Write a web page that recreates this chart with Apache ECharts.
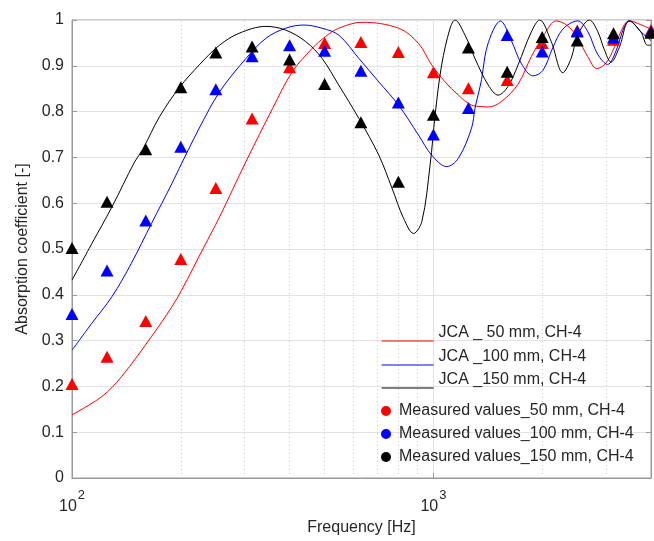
<!DOCTYPE html>
<html>
<head>
<meta charset="utf-8">
<title>Absorption coefficient – JCA model vs. measurement</title>
<script src="https://cdn.jsdelivr.net/npm/echarts@6/dist/echarts.min.js"></script>
<style>
  html, body { margin: 0; padding: 0; background: #fff; }
  #chart { width: 654px; height: 541px; }
</style>
</head>
<body>
<div id="chart"></div>
<script>
// Third-octave band centre frequencies of the impedance-tube measurement [Hz]
const bandFreqs = [100, 125, 160, 200, 250, 315, 400, 500, 630, 800, 1000, 1250, 1600, 2000, 2500, 3150, 4000];

// Measured absorption coefficients per band
const measured50  = [0.205, 0.265, 0.343, 0.478, 0.633, 0.785, 0.897, 0.950, 0.952, 0.930, 0.886, 0.851, 0.869, 0.950, 0.977, 0.957, 0.978];
const measured100 = [0.358, 0.453, 0.562, 0.723, 0.849, 0.921, 0.945, 0.933, 0.889, 0.820, 0.750, 0.808, 0.967, 0.931, 0.975, 0.962, 0.975];
const measured150 = [0.502, 0.603, 0.718, 0.853, 0.929, 0.942, 0.914, 0.860, 0.777, 0.647, 0.793, 0.940, 0.887, 0.963, 0.955, 0.971, 0.972];

// JCA model curves: [frequency Hz, absorption coefficient]
const jca50 = [
  [100, 0.138], [121, 0.178], [137, 0.221], [166, 0.309], [189, 0.374], [201, 0.410],
  [232, 0.505], [256, 0.570], [303, 0.691], [359, 0.807], [407, 0.887], [462, 0.938],
  [503, 0.964], [547, 0.982], [635, 0.995], [801, 0.982], [909, 0.949], [989, 0.902],
  [1077, 0.865], [1172, 0.836], [1275, 0.814], [1359, 0.811], [1418, 0.810], [1542, 0.822],
  [1715, 0.860], [1866, 0.920], [2032, 0.970], [2186, 0.998], [2354, 0.987], [2508, 0.960],
  [2673, 0.920], [2830, 0.894], [2997, 0.905], [3166, 0.940], [3374, 0.990], [3490, 0.998],
  [3741, 0.990], [4000, 0.980]
];
const jca100 = [
  [100, 0.279], [113.5, 0.338], [129, 0.396], [146, 0.469], [166, 0.556], [189, 0.643],
  [198, 0.676], [225, 0.764], [256, 0.843], [303, 0.916], [344, 0.960], [390, 0.982],
  [438, 0.989], [492, 0.982], [547, 0.967], [622, 0.916], [706, 0.865], [801, 0.814],
  [909, 0.749], [989, 0.705], [1088, 0.680], [1172, 0.698], [1275, 0.764], [1303, 0.807],
  [1359, 0.870], [1388, 0.920], [1418, 0.950], [1479, 0.985], [1530, 0.998], [1643, 0.955],
  [1751, 0.905], [1886, 0.878], [2009, 0.890], [2141, 0.940], [2281, 0.980], [2508, 0.998],
  [2673, 0.975], [2848, 0.925], [3035, 0.903], [3192, 0.930], [3374, 0.985], [3490, 0.998],
  [3741, 0.975], [4000, 0.955]
];
const jca150 = [
  [100, 0.432], [113.5, 0.512], [129, 0.592], [149, 0.690], [157, 0.718], [175, 0.790],
  [198, 0.852], [225, 0.902], [256, 0.945], [290, 0.971], [344, 0.986], [390, 0.978],
  [443, 0.953], [492, 0.916], [547, 0.858], [622, 0.785], [706, 0.705], [768, 0.633],
  [827, 0.567], [881, 0.534], [929, 0.560], [979, 0.683], [1011, 0.793], [1054, 0.902],
  [1112, 0.982], [1147, 1.000], [1223, 0.967], [1303, 0.916], [1418, 0.858], [1510, 0.836],
  [1609, 0.855], [1715, 0.902], [1866, 0.974], [1968, 1.000], [2118, 0.953], [2281, 0.885],
  [2404, 0.916], [2508, 0.967], [2702, 1.000], [2848, 0.975], [2972, 0.935], [3100, 0.908],
  [3268, 0.940], [3483, 0.998], [3749, 0.974], [3911, 0.945], [4000, 0.945]
];

// Minor (dotted) vertical grid lines of the logarithmic frequency axis
const minorGridFreqs = [200, 300, 400, 500, 600, 700, 800, 900, 2000, 3000];

// Series names as shown in the legend
const lineNames = ['JCA _ 50 mm, CH-4', 'JCA _100 mm, CH-4', 'JCA _150 mm, CH-4'];
const pointNames = ['Measured values_50 mm, CH-4', 'Measured values_100 mm, CH-4', 'Measured values_150 mm, CH-4'];
const colors = ['#ff0000', '#0000ff', '#000000'];

const FONT = '"Liberation Sans", Arial, Helvetica, sans-serif';
const TEXT = '#262626';
const AXIS = '#9a9a9a';

const pairs = vals => vals.map((v, i) => [bandFreqs[i], v]);

const chart = echarts.init(document.getElementById('chart'), null, { renderer: 'canvas' });

const lineSeries = [jca50, jca100, jca150].map((d, i) => ({
  name: lineNames[i],
  type: 'line',
  data: d,
  smooth: 0.35,
  symbol: 'none',
  z: 2,
  lineStyle: { color: colors[i], width: 1 },
  itemStyle: { color: colors[i] }
}));
lineSeries[0].markLine = {
  silent: true,
  z: 1,
  symbol: 'none',
  label: { show: false },
  lineStyle: { type: [1, 3], color: '#c8c8c8', width: 1 },
  data: minorGridFreqs.map(f => ({ xAxis: f }))
};

const pointSeries = [measured50, measured100, measured150].map((d, i) => ({
  name: pointNames[i],
  type: 'scatter',
  data: pairs(d),
  symbol: 'triangle',
  symbolSize: [13, 12],
  z: 3,
  itemStyle: { color: colors[i], opacity: 1 }
}));

// One legend block per model curve: the sample line sits slightly below its label
const lineLegendTops = [325, 349, 372];
const lineLegends = lineNames.map((n, i) => ({
  data: [{ name: n, icon: 'inherit', itemStyle: { color: 'rgba(0,0,0,0)', borderColor: 'rgba(0,0,0,0)', borderWidth: 0 } }],
  left: 381, top: lineLegendTops[i],
  padding: 0,
  itemWidth: 52, itemHeight: 16,
  selectedMode: false,
  lineStyle: { color: colors[i], width: 1.2 },
  formatter: name => '{t|' + name + '}',
  textStyle: {
    fontFamily: FONT, fontSize: 16, color: TEXT,
    rich: { t: { fontFamily: FONT, fontSize: 16, color: TEXT, padding: [0, 0, 16, 0] } }
  }
}));

const option = {
  animation: false,
  backgroundColor: '#ffffff',
  textStyle: { fontFamily: FONT },
  grid: {
    left: 72, top: 20, width: 581, height: 458,
    show: true, borderColor: AXIS, borderWidth: 1, backgroundColor: 'transparent'
  },
  legend: [
    ...lineLegends,
    {
      data: pointNames.map(n => ({ name: n, icon: 'circle' })),
      orient: 'vertical',
      left: 381, top: 403,
      padding: 0,
      itemWidth: 10, itemHeight: 10, itemGap: 7,
      selectedMode: false,
      textStyle: { fontFamily: FONT, fontSize: 16, color: TEXT, padding: [0, 0, 0, 3] }
    }
  ],
  xAxis: {
    type: 'log',
    logBase: 10,
    min: 100,
    max: 4000,
    name: 'Frequency [Hz]',
    nameLocation: 'middle',
    nameGap: 42,
    nameTextStyle: { fontFamily: FONT, fontSize: 16, color: TEXT },
    axisLine: { show: true, lineStyle: { color: AXIS } },
    axisTick: { show: true, inside: true, length: 5, lineStyle: { color: AXIS } },
    splitLine: { show: true, lineStyle: { color: '#e3e3e3', width: 1 } },
    axisLabel: {
      margin: 11,
      color: TEXT,
      formatter: v => {
        const e = Math.log10(v);
        const r = Math.round(e);
        if (Math.abs(e - r) > 1e-6) return '';
        return '{b|10}{s|' + r + '}';
      },
      rich: {
        b: { fontFamily: FONT, fontSize: 16, color: TEXT, lineHeight: 26, verticalAlign: 'bottom' },
        s: { fontFamily: FONT, fontSize: 13, color: TEXT, lineHeight: 14, verticalAlign: 'top', padding: [0, 0, 0, 1] }
      }
    }
  },
  yAxis: [
    {
      type: 'value',
      min: 0, max: 1, interval: 0.1,
      name: 'Absorption coefficient [-]',
      nameLocation: 'middle',
      nameGap: 41,
      nameTextStyle: { fontFamily: FONT, fontSize: 16, color: TEXT },
      axisLine: { show: true, lineStyle: { color: AXIS } },
      axisTick: { show: true, inside: true, length: 5, lineStyle: { color: AXIS } },
      splitLine: { show: true, lineStyle: { color: '#e3e3e3', width: 1 } },
      axisLabel: { fontFamily: FONT, fontSize: 16, color: TEXT, margin: 8 }
    },
    {
      type: 'value',
      position: 'right',
      min: 0, max: 1, interval: 0.1,
      axisLine: { show: true, lineStyle: { color: AXIS } },
      axisTick: { show: true, inside: true, length: 5, lineStyle: { color: AXIS } },
      splitLine: { show: false },
      axisLabel: { show: false }
    }
  ],
  series: [...lineSeries, ...pointSeries]
};

chart.setOption(option);
</script>
</body>
</html>
